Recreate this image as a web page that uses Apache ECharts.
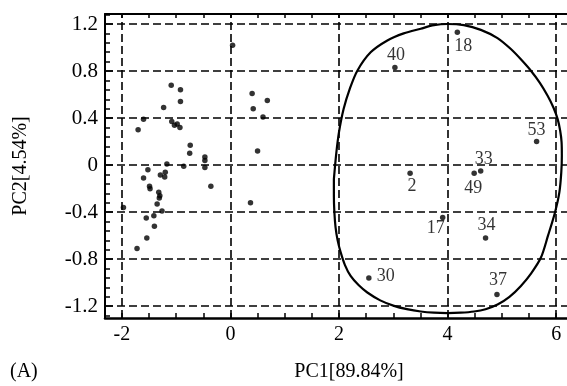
<!DOCTYPE html>
<html>
<head>
<meta charset="utf-8">
<script src="https://cdn.jsdelivr.net/npm/echarts@6/dist/echarts.min.js"></script>
<style>
  html, body { margin: 0; padding: 0; background: #fff; }
  #chart { width: 567px; height: 386px; }
</style>
</head>
<body>
<div id="chart"></div>
<script>
// PCA score plot: PC1 vs PC2

// Unlabelled samples (PC1, PC2)
const groupA_pc1 = [-1.09, -0.92, -0.92, -1.23, -1.60, -1.70, -1.08, -1.03, -0.98, -0.93,
  -0.74, -0.75, -0.47, -0.47, -0.47, -0.36, -0.86, -1.17, -1.20, -1.21,
  -1.29, -1.52, -1.60, -1.49, -1.48, -1.32, -1.30, -1.31, -1.35, -1.26,
  -1.41, -1.55, -1.97, -1.40, -1.54, -1.72,
  0.04, 0.40, 0.68, 0.42, 0.60, 0.50, 0.37];
const groupA_pc2 = [0.68, 0.64, 0.54, 0.49, 0.39, 0.30, 0.37, 0.34, 0.35, 0.32,
  0.17, 0.10, 0.07, 0.04, -0.02, -0.18, -0.01, 0.01, -0.06, -0.10,
  -0.085, -0.04, -0.11, -0.18, -0.20, -0.23, -0.26, -0.28, -0.33, -0.39,
  -0.43, -0.45, -0.36, -0.52, -0.62, -0.71,
  1.02, 0.61, 0.55, 0.48, 0.41, 0.12, -0.32];

// Numbered samples
const groupB_ids = ['40', '18', '53', '33', '49', '2', '17', '34', '30', '37'];
const groupB_pc1 = [3.03, 4.18, 5.64, 4.61, 4.49, 3.31, 3.91, 4.70, 2.55, 4.91];
const groupB_pc2 = [0.83, 1.13, 0.20, -0.05, -0.07, -0.07, -0.445, -0.62, -0.96, -1.10];

// Hand-drawn enclosure around the numbered group (PC1, PC2)
const outline_pc1 = [1.906, 1.950, 2.000, 2.085, 2.200, 2.338, 2.583, 2.891, 3.192, 3.506,
  3.750, 3.998, 4.300, 4.613, 4.920, 5.166, 5.350, 5.535, 5.700, 5.843,
  5.950, 6.028, 6.075, 6.100, 6.105, 6.095, 6.060, 5.980, 5.850, 5.720,
  5.540, 5.351, 5.140, 4.921, 4.700, 4.489, 4.240, 3.998, 3.750, 3.506,
  3.250, 3.013, 2.760, 2.522, 2.360, 2.214, 2.110, 2.030, 1.975, 1.937,
  1.915, 1.906, 1.906];
const outline_pc2 = [-0.119, 0.100, 0.280, 0.477, 0.650, 0.803, 0.959, 1.060, 1.120, 1.160,
  1.190, 1.200, 1.190, 1.150, 1.080, 0.987, 0.900, 0.803, 0.700, 0.590,
  0.490, 0.391, 0.290, 0.196, 0.080, -0.060, -0.230, -0.400, -0.600, -0.786,
  -0.920, -1.027, -1.120, -1.185, -1.225, -1.245, -1.255, -1.258, -1.255, -1.245,
  -1.225, -1.197, -1.150, -1.083, -1.020, -0.942, -0.850, -0.740, -0.640, -0.530,
  -0.400, -0.261, -0.119];

// Axis ticks
const xTickLabels = [-2, 0, 2, 4, 6];
const yTickLabels = [-1.2, -0.8, -0.4, 0, 0.4, 0.8, 1.2];

// Label placement for numbered points (pixel offsets from the dot)
const labelOffsets = {
  '40': [1, -12], '18': [6, 14], '53': [0, -11], '33': [3, -12], '49': [-1, 15],
  '2': [2, 13], '17': [-7, 11], '34': [1, -13], '30': [17, -2], '37': [1, -14]
};

const FONT = "'Liberation Serif', 'Times New Roman', serif";

const xMinor = [];
for (let i = -4; i <= 12; i++) xMinor.push(i / 2);
const yMinor = [];
for (let i = -16; i <= 16; i++) if (i % 5 !== 0) yMinor.push(+(i * 0.08).toFixed(2));

const groupA = groupA_pc1.map((x, i) => [x, groupA_pc2[i]]);
const groupB = groupB_ids.map((id, i) => ({
  value: [groupB_pc1[i], groupB_pc2[i]],
  name: id,
  label: { offset: labelOffsets[id] }
}));
const outline = outline_pc1.map((x, i) => [x, outline_pc2[i]]);

const gridLines = [
  ...xTickLabels.map(v => ({ xAxis: v })),
  ...yTickLabels.map(v => ({ yAxis: v }))
];

const chart = echarts.init(document.getElementById('chart'), null, { renderer: 'canvas' });

const axisLineStyle = { color: '#000', width: 2 };

chart.setOption({
  animation: false,
  backgroundColor: '#fff',
  textStyle: { fontFamily: FONT, color: '#000' },
  grid: { left: 105, right: 0, top: 14, bottom: 68 },
  xAxis: [
    {
      type: 'value', min: -2.31, max: 6.2, position: 'bottom',
      axisLine: { show: true, onZero: false, lineStyle: { color: '#000', width: 2.5 } },
      axisTick: { show: true, inside: true, length: 5, customValues: xMinor, lineStyle: { color: '#000', width: 1.5 } },
      axisLabel: { customValues: xTickLabels, color: '#000', fontFamily: FONT, fontSize: 20, margin: 7 },
      splitLine: { show: false }
    },
    {
      type: 'value', min: -2.31, max: 6.2, position: 'top',
      axisLine: { show: true, onZero: false, lineStyle: axisLineStyle },
      axisTick: { show: true, inside: true, length: 4, customValues: xMinor, lineStyle: { color: '#000', width: 1.5 } },
      axisLabel: { show: false },
      splitLine: { show: false }
    }
  ],
  yAxis: [
    {
      type: 'value', min: -1.3, max: 1.285, position: 'left',
      axisLine: { show: true, onZero: false, lineStyle: axisLineStyle },
      axisTick: { show: true, inside: true, length: 8, customValues: yTickLabels, lineStyle: { color: '#000', width: 1.5 } },
      axisLabel: { customValues: yTickLabels, color: '#000', fontFamily: FONT, fontSize: 21, margin: 7 },
      splitLine: { show: false },
      name: 'PC2[4.54%]', nameLocation: 'middle', nameRotate: 90, nameGap: 74,
      nameTextStyle: { fontFamily: FONT, fontSize: 20, color: '#000' }
    },
    {
      type: 'value', min: -1.3, max: 1.285, position: 'left',
      axisLine: { show: false, onZero: false },
      axisTick: { show: true, inside: true, length: 5, customValues: yMinor, lineStyle: { color: '#000', width: 1.5 } },
      axisLabel: { show: false },
      splitLine: { show: false }
    }
  ],
  graphic: [
    { type: 'text', left: 10, top: 362, style: { text: '(A)', font: "20px " + FONT, fill: '#000' } },
    { type: 'text', x: 349, y: 372, style: { text: 'PC1[89.84%]', font: "20px " + FONT, fill: '#000', align: 'center', verticalAlign: 'middle' } }
  ],
  series: [
    {
      type: 'scatter', xAxisIndex: 0, yAxisIndex: 0,
      symbol: 'circle', symbolSize: 5.5,
      itemStyle: { color: '#000' },
      data: groupA,
      silent: true,
      markLine: {
        silent: true, symbol: 'none',
        label: { show: false },
        lineStyle: { type: [8, 4], color: '#000', width: 1.6 },
        data: gridLines
      }
    },
    {
      type: 'scatter', xAxisIndex: 0, yAxisIndex: 0,
      symbol: 'circle', symbolSize: 5.5,
      itemStyle: { color: '#000' },
      data: groupB,
      silent: true,
      label: {
        show: true, position: 'inside', formatter: '{b}',
        color: '#000', fontFamily: FONT, fontSize: 18,
        align: 'center', verticalAlign: 'middle'
      }
    },
    {
      type: 'line', xAxisIndex: 0, yAxisIndex: 0,
      data: outline, smooth: 0.3, showSymbol: false, silent: true,
      lineStyle: { color: '#000', width: 2.2 }
    }
  ]
});
</script>
</body>
</html>
